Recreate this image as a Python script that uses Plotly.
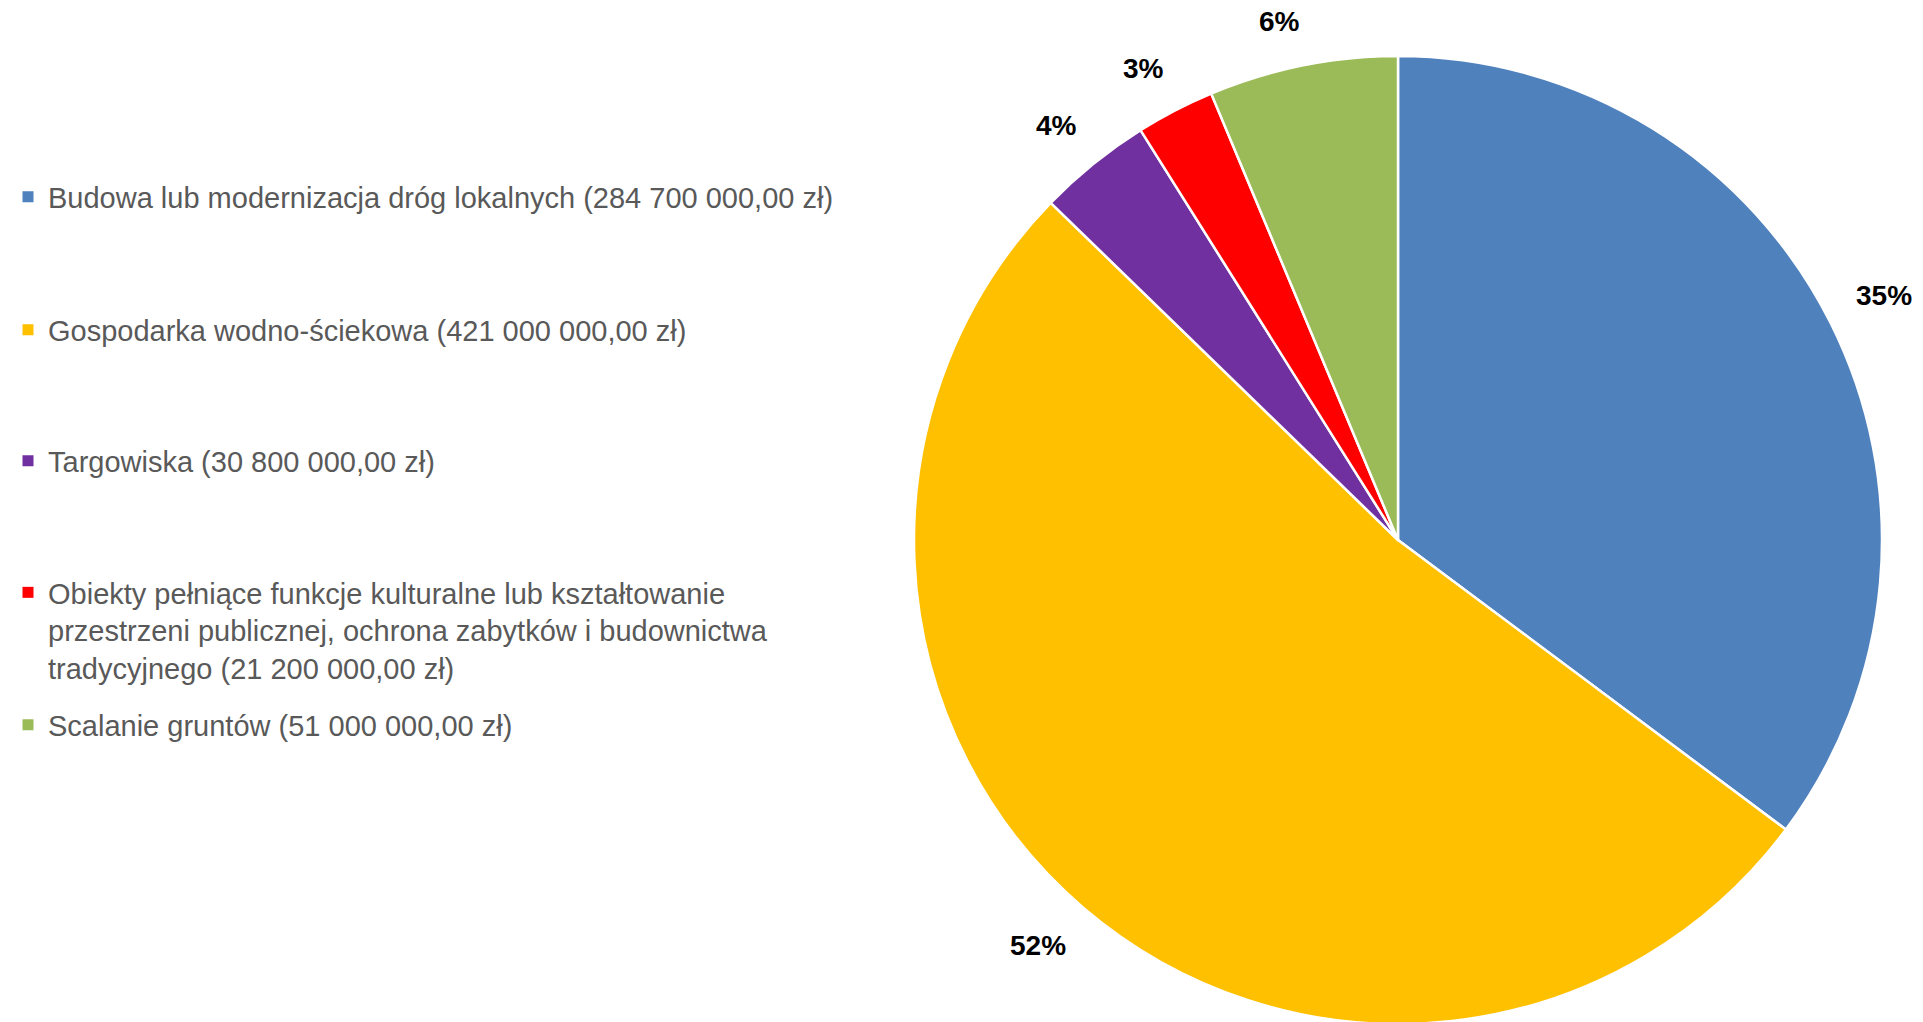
import math
import plotly.graph_objects as go

W, H = 1923, 1022
OFF = 8  # default body margin of the html page shifts the figure by 8px

labels = [
    "Budowa lub modernizacja dróg lokalnych (284 700 000,00 zł)",
    "Gospodarka wodno-ściekowa (421 000 000,00 zł)",
    "Targowiska (30 800 000,00 zł)",
    "Obiekty pełniące funkcje kulturalne lub kształtowanie<br>przestrzeni publicznej, ochrona zabytków i budownictwa<br>tradycyjnego (21 200 000,00 zł)",
    "Scalanie gruntów (51 000 000,00 zł)",
]
values = [284700000.00, 421000000.00, 30800000.00, 21200000.00, 51000000.00]
colors = ["#4F81BD", "#FFC000", "#7030A0", "#FF0000", "#9BBB59"]

FONT = "Liberation Sans, Arial, sans-serif"

# pie placement (screen pixels)
CX, CY, R = 1398, 540, 484
fcx, fcy = CX - OFF, CY - OFF
dom_x = [(fcx - R) / W, (fcx + R) / W]
dom_y = [(H - fcy - R) / H, (H - fcy + R) / H]

fig = go.Figure()
fig.add_trace(go.Pie(
    values=values,
    labels=[l.replace("<br>", " ") for l in labels],
    marker=dict(colors=colors, line=dict(color="white", width=2.5)),
    sort=False, direction="clockwise", rotation=0,
    textinfo="none", hoverinfo="label+percent",
    showlegend=False,
    domain=dict(x=dom_x, y=dom_y),
))

# legend entries (one legend per entry to reproduce spacing)
leg_y_px = [197, 330, 461, 567, 725]
leg_anchor = ["middle", "middle", "middle", "top", "middle"]
for i, (lab, col) in enumerate(zip(labels, colors)):
    lname = "legend" if i == 0 else f"legend{i+1}"
    fig.add_trace(go.Scatter(
        x=[None], y=[None], mode="markers", name=lab,
        marker=dict(symbol="square", size=11, color=col),
        legend=lname, showlegend=True,
    ))
    fig.layout[lname] = dict(
        x=0, xanchor="left", y=1 - (leg_y_px[i] - OFF) / H, yanchor=leg_anchor[i],
        bgcolor="rgba(0,0,0,0)", valign="top",
        font=dict(family=FONT, size=29, color="#595959"),
    )

# percentage labels placed just outside the pie ("outside end"), derived from the values:
# the label box corner nearest the centre sits on a circle slightly larger than the pie
LBL_SIZE = 28
total = sum(values)
cum = 0
for v in values:
    frac = v / total
    mid = (cum + frac / 2) * 2 * math.pi
    cum += frac
    txt = f"{round(frac * 100):d}%"
    dx, dy = math.sin(mid), -math.cos(mid)
    half_w = len(txt) * 0.62 * LBL_SIZE / 2
    half_h = LBL_SIZE / 2
    gap = 31
    px = fcx + (R + gap) * dx + math.copysign(half_w, dx)
    py = fcy + (R + gap) * dy + math.copysign(half_h, dy)
    fig.add_annotation(
        x=px / W, y=1 - py / H, xref="paper", yref="paper",
        text=f"<b>{txt}</b>", showarrow=False,
        font=dict(family=FONT, size=LBL_SIZE, color="black"),
        xanchor="center", yanchor="middle",
    )

fig.update_layout(
    width=W, height=H,
    margin=dict(l=0, r=0, t=0, b=0),
    paper_bgcolor="white", plot_bgcolor="white",
    xaxis=dict(visible=False), yaxis=dict(visible=False),
)

fig.write_html("out.html")
